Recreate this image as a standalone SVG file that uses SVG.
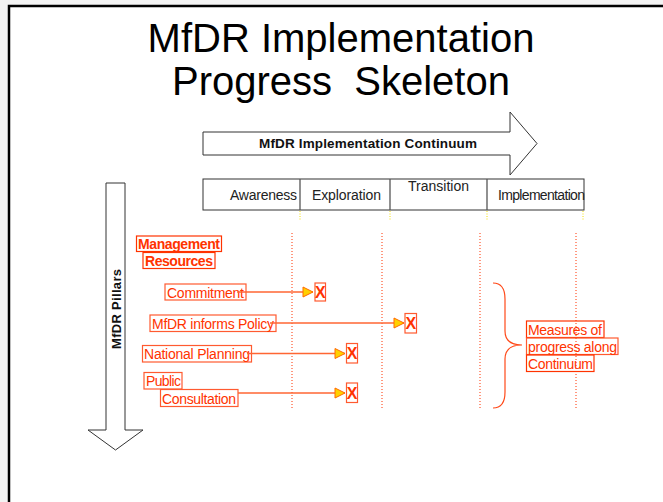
<svg xmlns="http://www.w3.org/2000/svg" width="663" height="502" viewBox="0 0 663 502">
  <style>
    .title { font-family: "Liberation Sans", Arial, sans-serif; font-size: 40px; fill: #000; }
    .shape { fill: #fff; stroke: #333; stroke-width: 1; }
    .phase { font-family: "Liberation Sans", Arial, sans-serif; font-size: 14px; fill: #222; }
    .lbl { font-family: "Liberation Sans", Arial, sans-serif; font-size: 14px; fill: #ff3300; }
    .lblb { font-family: "Liberation Sans", Arial, sans-serif; font-size: 14px; font-weight: bold; fill: #ff3300; }
    .box { fill: none; stroke: #ff5a30; stroke-width: 1.2; }
    .boxb { fill: none; stroke: #ff3300; stroke-width: 1.2; }
    .xmark { font-family: "Liberation Sans", Arial, sans-serif; font-size: 16px; font-weight: bold; fill: #ff3300; text-anchor: middle; }
    .guide { stroke: #ff3300; stroke-width: 1; stroke-dasharray: 1 2; fill: none; }
    .tick { stroke: #f5e000; stroke-width: 1; stroke-dasharray: 1 1.5; }
    .link { stroke: #ff6633; stroke-width: 1.5; fill: none; marker-end: url(#tri); }
  </style>
  <defs>
    <marker id="tri" markerUnits="userSpaceOnUse" markerWidth="12" markerHeight="12" refX="10" refY="5" orient="auto" viewBox="-1 -1 12 12">
      <path d="M0,0 L10,5 L0,10 Z" fill="#ffd000" stroke="#ff6a00" stroke-width="1"/>
    </marker>
  </defs>

  <!-- slide frame -->
  <rect x="0" y="0" width="663" height="502" fill="#f3f3f3"/>
  <rect x="9" y="6" width="654" height="496" fill="#fff"/>
  <path d="M9,502 L9,6 L663,6" fill="none" stroke="#000" stroke-width="2.5"/>

  <!-- title -->
  <g id="title">
    <text class="title" x="341" y="52" text-anchor="middle">MfDR Implementation</text>
    <text class="title" x="341" y="95" text-anchor="middle" xml:space="preserve">Progress  Skeleton</text>
  </g>

  <!-- horizontal continuum arrow -->
  <g id="continuum">
    <polygon class="shape" points="203,132 510,132 510,112 537,143.5 510,175 510,155 203,155"/>
    <text x="259" y="148" textLength="218" font-family="Liberation Sans, Arial, sans-serif" font-size="13.5" font-weight="bold" fill="#111">MfDR Implementation Continuum</text>
  </g>

  <!-- phase strip -->
  <g id="phases">
    <rect class="shape" x="203" y="179" width="381" height="31"/>
    <line x1="300" y1="179" x2="300" y2="210" stroke="#555" stroke-width="1.3"/>
    <line x1="390" y1="179" x2="390" y2="210" stroke="#555" stroke-width="1.3"/>
    <line x1="487" y1="179" x2="487" y2="210" stroke="#555" stroke-width="1.3"/>
    <text class="phase" x="230" y="200" textLength="67">Awareness</text>
    <text class="phase" x="312" y="200" textLength="69">Exploration</text>
    <text class="phase" x="408" y="191" textLength="61">Transition</text>
    <text class="phase" x="498" y="200" textLength="87" font-size="13">Implementation</text>
    <line class="tick" x1="300" y1="211" x2="300" y2="220"/>
    <line class="tick" x1="390" y1="211" x2="390" y2="220"/>
    <line class="tick" x1="487" y1="211" x2="487" y2="220"/>
    <line class="tick" x1="583" y1="211" x2="583" y2="220"/>
  </g>

  <!-- phase guide lines -->
  <g id="guides">
    <line class="guide" x1="292" y1="233" x2="292" y2="408"/>
    <line class="guide" x1="382" y1="233" x2="382" y2="408"/>
    <line class="guide" x1="480" y1="233" x2="480" y2="408"/>
    <line class="guide" x1="576" y1="233" x2="576" y2="408"/>
  </g>

  <!-- vertical pillars arrow -->
  <g id="pillars">
    <polygon class="shape" points="106,183 125,183 125,430 143,430 115.5,450 88,430 106,430"/>
    <text transform="translate(120.5,309) rotate(-90)" text-anchor="middle" textLength="80" font-family="Liberation Sans, Arial, sans-serif" font-size="13" font-weight="bold" fill="#111">MfDR Pillars</text>
  </g>

  <!-- pillar labels -->
  <g id="management">
    <rect class="boxb" x="136.5" y="236" width="85" height="15.5"/>
    <text class="lblb" x="138" y="249" textLength="82">Management</text>
    <rect class="boxb" x="143" y="252.5" width="72" height="16"/>
    <text class="lblb" x="145" y="265.5" textLength="68">Resources</text>
  </g>
  <g id="commitment">
    <rect class="box" x="165" y="284" width="81" height="16"/>
    <text class="lbl" x="167" y="297.5" textLength="77">Commitment</text>
  </g>
  <g id="policy">
    <rect class="box" x="150" y="315" width="126" height="16.5"/>
    <text class="lbl" x="152" y="328.5" textLength="122">MfDR informs Policy</text>
  </g>
  <g id="planning">
    <rect class="box" x="142.5" y="345.5" width="109" height="16.5"/>
    <text class="lbl" x="144" y="359" textLength="106">National Planning</text>
  </g>
  <g id="consultation">
    <rect class="box" x="144" y="372.5" width="38" height="16.5"/>
    <text class="lbl" x="146" y="386" textLength="35">Public</text>
    <rect class="box" x="160.5" y="389.5" width="77.5" height="17"/>
    <text class="lbl" x="162" y="403.5" textLength="74">Consultation</text>
  </g>

  <!-- progress marks -->
  <g id="mark-commitment">
    <rect class="box" x="315" y="283" width="10.5" height="18"/>
    <text class="xmark" x="320.3" y="298">X</text>
  </g>
  <g id="mark-policy">
    <rect class="box" x="405" y="313.5" width="11.5" height="19.5"/>
    <text class="xmark" x="410.8" y="329">X</text>
  </g>
  <g id="mark-planning">
    <rect class="box" x="346.5" y="343.5" width="11" height="19.5"/>
    <text class="xmark" x="352" y="359">X</text>
  </g>
  <g id="mark-consultation">
    <rect class="box" x="346.5" y="383" width="11" height="19.5"/>
    <text class="xmark" x="352" y="398.5">X</text>
  </g>

  <!-- connectors -->
  <g id="connectors">
    <line class="link" x1="237" y1="292" x2="313" y2="292"/>
    <line class="link" x1="270" y1="323" x2="404" y2="323"/>
    <line class="link" x1="247" y1="353.5" x2="345" y2="353.5"/>
    <line class="link" x1="238" y1="393" x2="345" y2="393"/>
  </g>

  <!-- brace and its note -->
  <g id="measures">
    <path d="M493,283 C502,283 505,289 505,299 L505,331 C505,340 510,345 522,345 C510,345 505,350 505,359 L505,392 C505,402 502,408 493,408" fill="none" stroke="#ff4a1a" stroke-width="1.2"/>
    <rect class="boxb" x="526.5" y="321" width="77.5" height="16.5"/>
    <text class="lbl" x="528" y="335" textLength="74">Measures of</text>
    <rect class="box" x="526.5" y="338" width="91.5" height="16.5"/>
    <text class="lbl" x="528" y="351.5" textLength="89">progress along</text>
    <rect class="boxb" x="526.5" y="355" width="67.5" height="16.5"/>
    <text class="lbl" x="528" y="369" textLength="65">Continuum</text>
  </g>
</svg>
